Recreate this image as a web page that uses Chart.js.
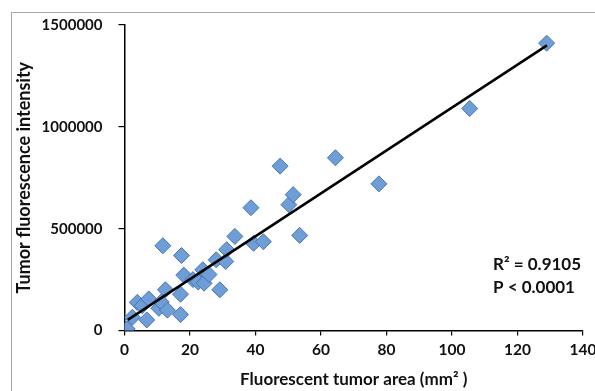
<!DOCTYPE html>
<html>
<head>
<meta charset="utf-8">
<script src="https://cdn.jsdelivr.net/npm/chart.js@4.4.1/dist/chart.umd.min.js"></script>
<style>
  html, body { margin: 0; padding: 0; background: #fff; }
  #wrap { position: relative; width: 595px; height: 391px; overflow: hidden; }
  #frame { position: absolute; left: 11px; top: 12px; width: 700px; height: 500px; border: 1px solid #a8a8a8; }
  canvas { position: absolute; left: 0; top: 0; }
</style>
</head>
<body>
<div id="wrap">
  <div id="frame"></div>
  <canvas id="chart" width="595" height="391"></canvas>
</div>
<script>
// values
const tumorArea = [0.8, 2.4, 3.9, 5.4, 6.8, 7.4, 10.5, 11.2, 11.7, 12.5, 13.1, 17.1, 17.1, 17.4, 18.1, 20.9, 22.5, 23.9, 24.3, 25.8, 28.0, 29.1, 30.9, 31.2, 33.7, 38.6, 39.4, 42.4, 47.5, 50.2, 51.5, 53.5, 64.4, 77.7, 105.4, 128.9];
const intensity = [8000, 65000, 138000, 122000, 52000, 155000, 109000, 140000, 416000, 200000, 100000, 178000, 78000, 368000, 272000, 250000, 238000, 298000, 232000, 275000, 347000, 200000, 339000, 397000, 462000, 603000, 428000, 436000, 807000, 618000, 667000, 467000, 848000, 720000, 1090000, 1411000];

// trend line end points
const fitX = [1, 129];
const fitY = [52000, 1400000];

const statLines = ["R\u00b2 = 0.9105", "P < 0.0001"];

const FONT = "Lato, 'Open Sans', sans-serif";

const points = tumorArea.map((x, i) => ({ x: x, y: intensity[i] }));
const fitLine = fitX.map((x, i) => ({ x: x, y: fitY[i] }));

// draws the R2 / P text in the lower right
const statsText = {
    id: "statsText",
    afterDatasetsDraw(chart) {
        const ctx = chart.ctx;
        const area = chart.chartArea;
        ctx.save();
        ctx.font = "bold 17px " + FONT;
        ctx.fillStyle = "#111";
        ctx.textBaseline = "middle";
        statLines.forEach((t, i) => {
            ctx.fillText(t, area.right - 90, area.bottom - 66 + i * 23);
        });
        ctx.restore();
    },
};

const ctx = document.getElementById("chart").getContext("2d");
new Chart(ctx, {
    type: "scatter",
    data: {
        datasets: [
            {
                type: "line",
                data: fitLine,
                borderColor: "#000",
                borderWidth: 2.5,
                pointRadius: 0,
                fill: false,
            },
            {
                data: points,
                pointStyle: "rectRot",
                pointRadius: 8,
                pointHoverRadius: 8,
                backgroundColor: "#6f9ed7",
                borderColor: "#4674b4",
                borderWidth: 1,
            },
        ],
    },
    options: {
        responsive: false,
        animation: false,
        devicePixelRatio: 1,
        layout: { padding: { left: 0, top: 25, right: 0, bottom: 0 } },
        plugins: {
            legend: { display: false },
            tooltip: { enabled: false },
        },
        scales: {
            x: {
                type: "linear",
                min: 0,
                max: 140,
                ticks: {
                    stepSize: 20,
                    padding: 5,
                    color: "#111",
                    font: { family: FONT, size: 15.5, weight: "bold" },
                },
                grid: {
                    drawOnChartArea: false,
                    tickLength: 5,
                    color: "#000",
                    lineWidth: 1.2,
                },
                border: { color: "#000", width: 1.5 },
                title: {
                    display: true,
                    text: "Fluorescent tumor area (mm\u00b2 )",
                    color: "#111",
                    font: { family: FONT, size: 17, weight: "bold" },
                    padding: { top: 0, bottom: 1 },
                },
                afterFit(scale) {
                    scale.height = 60.5;
                    scale.paddingRight = 12;
                },
            },
            y: {
                min: 0,
                max: 1500000,
                ticks: {
                    stepSize: 500000,
                    padding: 16,
                    color: "#111",
                    font: { family: FONT, size: 15, weight: "bold" },
                    callback: (v) => String(v),
                },
                grid: {
                    drawOnChartArea: false,
                    tickLength: 6,
                    color: "#000",
                    lineWidth: 1.2,
                },
                border: { color: "#000", width: 1.5 },
                title: {
                    display: true,
                    text: "Tumor fluorescence intensity",
                    color: "#111",
                    font: { family: FONT, size: 18, weight: "bold" },
                    padding: { top: 13, bottom: 0 },
                },
                afterFit(scale) {
                    scale.width = 124.5;
                },
            },
        },
    },
    plugins: [statsText],
});
</script>
</body>
</html>
